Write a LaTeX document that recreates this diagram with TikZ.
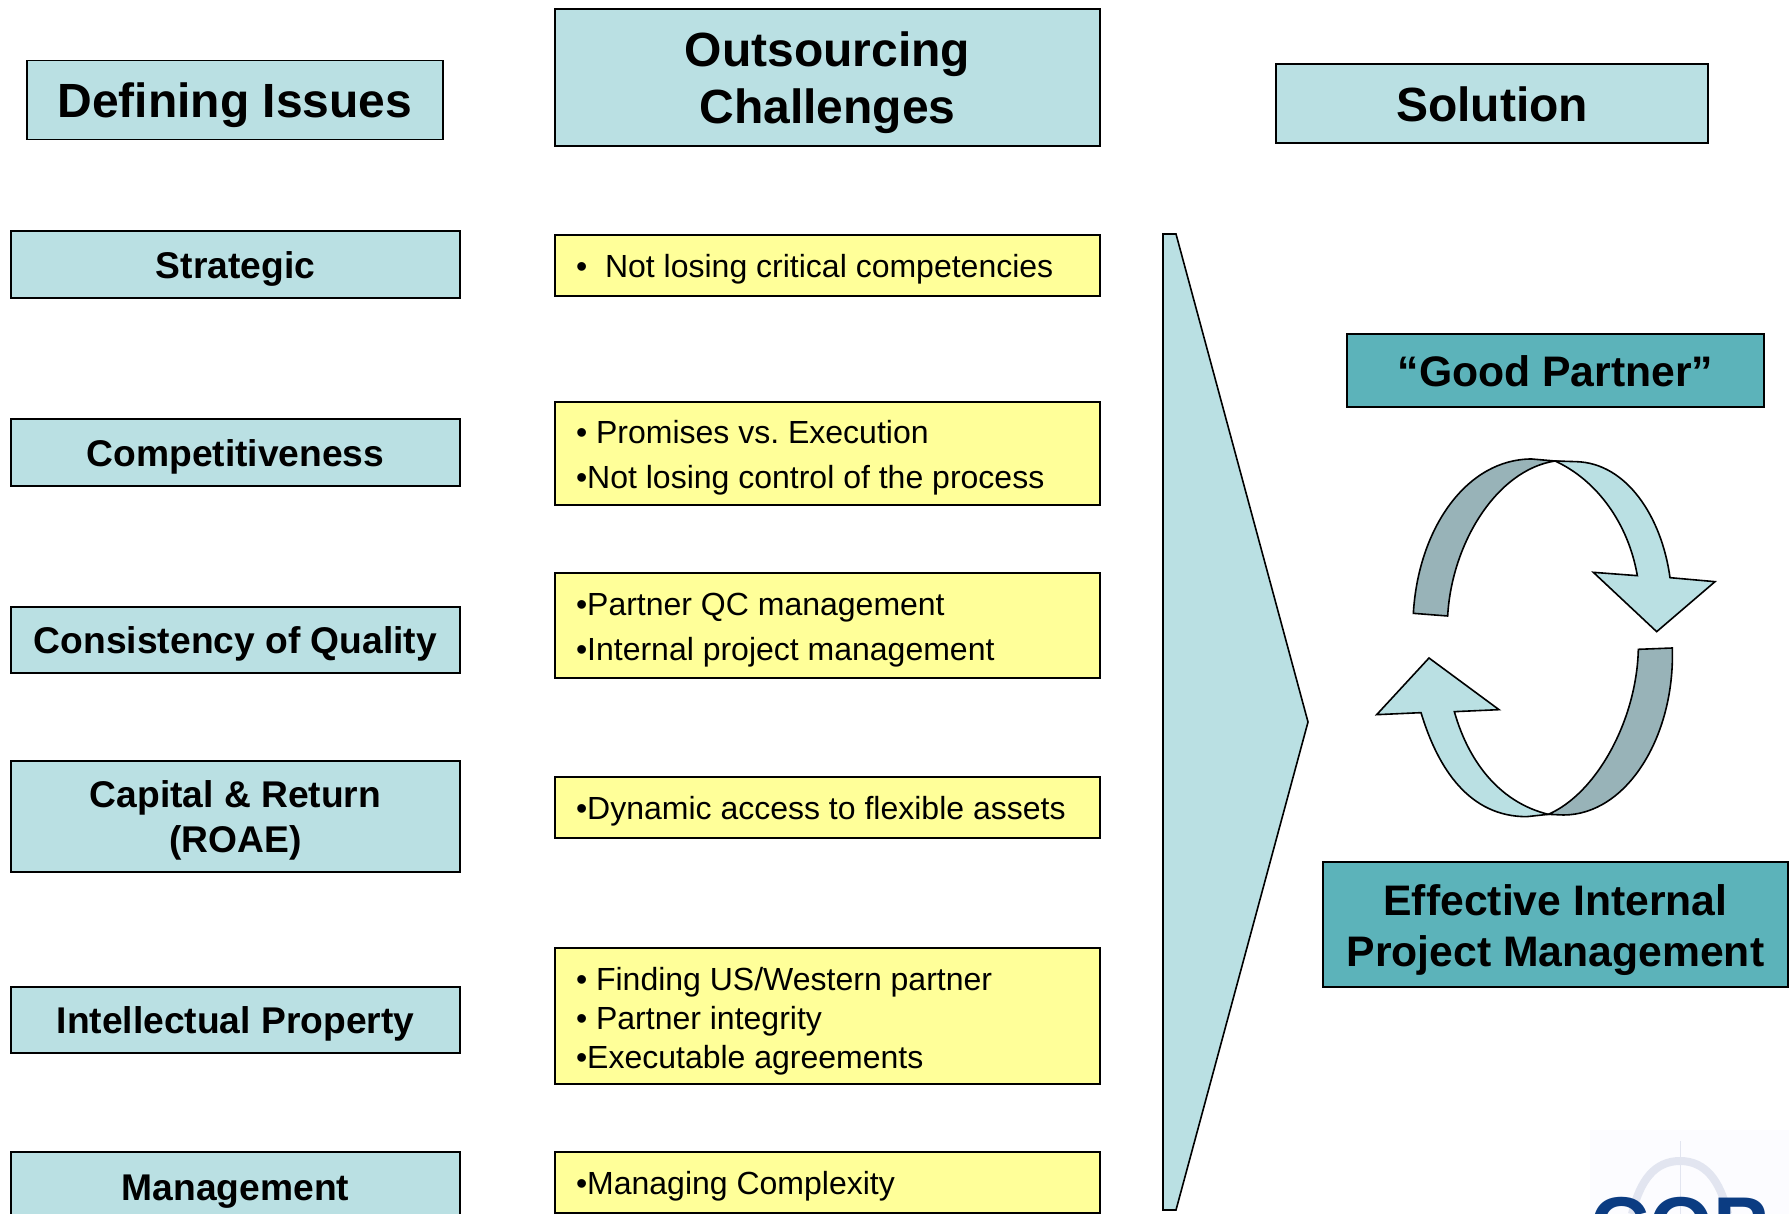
\documentclass[tikz,border=0pt]{standalone}
\usepackage{fontspec}
\setmainfont{Liberation Sans}
\frenchspacing
\definecolor{paleteal}{HTML}{BAE0E3}
\definecolor{darkteal}{HTML}{5CB3BA}
\definecolor{greyteal}{HTML}{98B3B8}
\definecolor{paleyellow}{HTML}{FFFF99}
\definecolor{logoblue}{HTML}{0B3C82}
\definecolor{logoarc}{HTML}{E2E5F0}
\tikzset{%
    boxtext/.style={
		execute at begin node={\rule{0pt}{1em}},
		execute at end node={\rule[-.25em]{0pt}{0pt}}
	}
}
\tikzset{lowertext/.style={execute at begin node={\rule{0pt}{#1}}}}
\tikzset{headbox/.style={
		boxtext, draw, fill=paleteal, line width=1.6pt, align=flush center, inner sep=0pt,
		text width=400, font=\fontsize{48}{57}\selectfont\bfseries
	}
}
\tikzset{issue/.style={headbox, minimum width=449, text width=440, font=\fontsize{37.2}{45}\selectfont\bfseries}}
\tikzset{challenge/.style={
		boxtext, draw, fill=paleyellow, line width=1.6pt, align=flush left, inner sep=0pt,
		minimum width=545, text width=503,
		font=\fontsize{32}{45}\selectfont
	}
}
\tikzset{answer/.style={headbox, fill=darkteal, font=\fontsize{42.7}{51}\selectfont\bfseries}}
\tikzset{turn/.style={draw, line width=1.6pt, line join=miter}}

\begin{document}
\begin{tikzpicture}[x=1pt, y=-1pt]
		\useasboundingbox (0,0) rectangle (1789,1214);
		\clip (0,0) rectangle (1789,1214);

		% Column titles
		\node[headbox, minimum width=416, minimum height=79] (defining) at (235,100) {Defining Issues};
		\node[headbox, minimum width=545, minimum height=137] (outsourcing) at (827.5,77.5) {Outsourcing\\Challenges};
		\node[headbox, minimum width=432, minimum height=79] (solution) at (1492,103.5) {Solution};

		% Left column
		\node[issue, minimum height=67] (strategic) at (235.5,264.5) {Strategic};
		\node[issue, minimum height=67] (competitive) at (235.5,452.5) {Competitiveness};
		\node[issue, minimum height=66] (quality) at (235.5,640) {Consistency of Quality};
		\node[issue, minimum height=111] (capital) at (235.5,816.5) {Capital \& Return\\(ROAE)};
		\node[issue, minimum height=66] (property) at (235.5,1020) {Intellectual Property};
		\node[issue, minimum height=70] (management) at (235.5,1187) {Management};

		% Middle column
		\node[challenge, minimum height=61] (critical) at (827.5,265.5) {•\hspace{9pt} Not losing critical competencies};
		\node[challenge, lowertext=1.05em, minimum height=103] (promises) at (827.5,453.5) {• Promises vs. Execution\\•Not losing control of the process};
		\node[challenge, minimum height=105] (partnerqc) at (827.5,625.5) {•Partner QC management\\•Internal project management};
		\node[challenge, minimum height=61] (dynamic) at (827.5,807.5) {•Dynamic access to flexible assets};
		\node[challenge, lowertext=1.1em, minimum height=136, font=\fontsize{32}{39}\selectfont] (finding) at (827.5,1016) {• Finding US/Western partner\\• Partner integrity\\•Executable agreements};
		\node[challenge, minimum height=61] (complexity) at (827.5,1182.5) {•Managing Complexity};

		% Big pointer
		\draw[fill=paleteal, line width=1.6pt] (1163,234) -- (1176,234) -- (1308,722) -- (1176,1210) -- (1163,1210) -- cycle;

		% Right column
		\node[answer, minimum width=417, minimum height=73] (good) at (1555.5,370.5) {“Good Partner”};
		\node[answer, text width=440, minimum width=465, minimum height=125] (effective) at (1555.5,924.5) {Effective Internal\\Project Management};

		% Cycle arrows, traced at one third scale
		\begin{scope}[shift={(1350,420)}, scale=1/3]
			\draw[turn, fill=greyteal] (190,580) .. controls (205,325) and (350,117) .. (545,117) -- (615,123)
				.. controls (440,150) and (305,370) .. (293,588) -- cycle;
			\draw[turn, fill=paleteal] (615,123) -- (680,125) .. controls (830,130) and (935,290) .. (960,473)
				-- (1095,485) -- (920,635) -- (730,457) -- (862,467) .. controls (835,310) and (740,180) .. (615,123) -- cycle;
			\draw[turn, fill=greyteal] (967,684) .. controls (975,950) and (830,1185) .. (640,1185) -- (595,1183)
				.. controls (740,1120) and (860,900) .. (865,688) -- cycle;
			\draw[turn, fill=paleteal] (595,1183) -- (530,1190) .. controls (360,1190) and (265,1050) .. (213,878)
				-- (80,884) -- (237,714) -- (447,869) -- (313,875) .. controls (360,1040) and (460,1150) .. (595,1183) -- cycle;
		\end{scope}

		% Logo, cut off by the page
		\fill[blue!1] (1590,1130) rectangle (1789,1214);
		\draw[logoarc, line width=1pt] (1680,1141) -- (1680,1214);
		\draw[logoarc, line width=8pt] (1632,1214) .. controls (1640,1180) and (1655,1161) .. (1680,1161) .. controls (1705,1161) and (1720,1180) .. (1728,1214);
		\node[anchor=base west, inner sep=0pt, text=logoblue, font=\fontsize{82}{82}\selectfont\bfseries] (logo) at (1590,1254) {COP};
	\end{tikzpicture}
\end{document}
